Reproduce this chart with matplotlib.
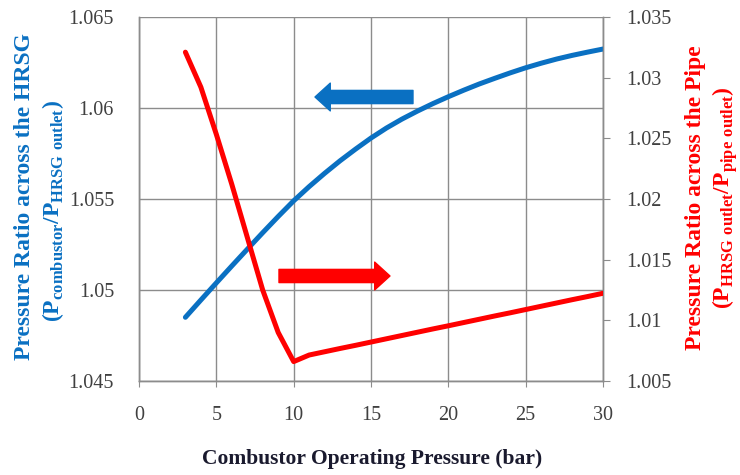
import matplotlib
matplotlib.use("Agg")
import matplotlib.pyplot as plt
from matplotlib.patches import FancyArrowPatch
from matplotlib.ticker import FuncFormatter

plt.rcParams["font.family"] = ["Liberation Serif", "DejaVu Serif"]
plt.rcParams["mathtext.fontset"] = "custom"
plt.rcParams["mathtext.rm"] = "Liberation Serif:bold"
plt.rcParams["mathtext.bf"] = "Liberation Serif:bold"

# combustor operating pressure (bar)
pressure = list(range(3, 31))
# pressure ratio across the HRSG (left axis)
hrsg_ratio = [1.04850, 1.04945, 1.05039, 1.05132, 1.05224, 1.05315, 1.05404,
              1.05490, 1.05568, 1.05641, 1.05710, 1.05774, 1.05835, 1.05890,
              1.05939, 1.05983, 1.06024, 1.06062, 1.06098, 1.06132, 1.06163,
              1.06193, 1.06221, 1.06246, 1.06269, 1.06289, 1.06307, 1.06324]
# pressure ratio across the pipe (right axis)
pipe_ratio = [1.03210, 1.02922, 1.02533, 1.02121, 1.01685, 1.01249, 1.00900,
              1.00660, 1.00714, 1.00741, 1.00768, 1.00794, 1.00821, 1.00848,
              1.00875, 1.00902, 1.00929, 1.00955, 1.00982, 1.01009, 1.01036,
              1.01062, 1.01089, 1.01116, 1.01143, 1.01170, 1.01196, 1.01223]

BLUE = "#0a70c2"
RED = "#ff0000"
GRID = "#8c8c8c"


def fmt(v, _pos):
    return f"{v:.3f}".rstrip("0").rstrip(".")


fig = plt.figure(figsize=(7.4, 4.75), dpi=100)
ax = fig.add_axes([139 / 740, 1 - 381 / 475, 464 / 740, 364 / 475])
ax2 = ax.twinx()

ax.plot(pressure, hrsg_ratio, color=BLUE, lw=3.6, solid_capstyle="round", zorder=3)
ax2.plot(pressure, pipe_ratio, color=RED, lw=3.6, solid_capstyle="round",
         solid_joinstyle="round", zorder=3)

ax.set_xlim(0, 30)
ax.set_ylim(1.045, 1.065)
ax2.set_ylim(1.005, 1.035)
ax.set_xticks(range(0, 31, 5))
ax.set_yticks([1.045, 1.05, 1.055, 1.06, 1.065])
ax2.set_yticks([1.005, 1.01, 1.015, 1.02, 1.025, 1.03, 1.035])
ax.yaxis.set_major_formatter(FuncFormatter(fmt))
ax2.yaxis.set_major_formatter(FuncFormatter(fmt))

ax.grid(True, color=GRID, lw=1.0)
ax.set_axisbelow(True)
for a in (ax, ax2):
    for s in a.spines.values():
        s.set_color(GRID)
        s.set_linewidth(1.0)
ax.spines["top"].set_visible(False)
ax2.spines["top"].set_visible(False)

ax.tick_params(axis="y", length=0, pad=18, labelsize=14.5, colors="#404040")
ax.tick_params(axis="x", length=4, color=GRID, pad=14, labelsize=14.5, labelcolor="#404040")
ax2.tick_params(axis="y", length=5, color=GRID, pad=12, labelsize=14.5, labelcolor="#404040")

# axis titles
fig.text(372 / 740, 1 - 459 / 475, "Combustor Operating Pressure (bar)",
         ha="center", va="center", fontsize=15.5, fontweight="bold", color="#1a1a2e")
fig.text(25 / 740, 1 - 197 / 475, "Pressure Ratio across the HRSG",
         rotation=90, ha="center", va="center", fontsize=17, fontweight="bold", color=BLUE)
fig.text(53 / 740, 1 - 211 / 475,
         r"(P$_{\mathrm{combustor}}$/P$_{\mathrm{HRSG\ outlet}}$)",
         rotation=90, ha="center", va="center", fontsize=17, fontweight="bold", color=BLUE)
fig.text(695 / 740, 1 - 198 / 475, "Pressure Ratio across the Pipe",
         rotation=90, ha="center", va="center", fontsize=17, fontweight="bold", color=RED)
fig.text(725 / 740, 1 - 198 / 475,
         r"(P$_{\mathrm{HRSG\ outlet}}$/P$_{\mathrm{pipe\ outlet}}$)",
         rotation=90, ha="center", va="center", fontsize=17, fontweight="bold", color=RED)

# direction arrows
for tail, tip, y, col in [(0.5905, 0.3793, 0.7802, BLUE), (0.3017, 0.5409, 0.2885, RED)]:
    arr = FancyArrowPatch((tail, y), (tip, y), transform=ax.transAxes,
                          arrowstyle="simple,head_length=1.1,head_width=2.0,tail_width=0.95",
                          mutation_scale=10, color=col, shrinkA=0, shrinkB=0, zorder=4)
    ax2.add_patch(arr)

fig.savefig("out.png", dpi=100, facecolor="white")
